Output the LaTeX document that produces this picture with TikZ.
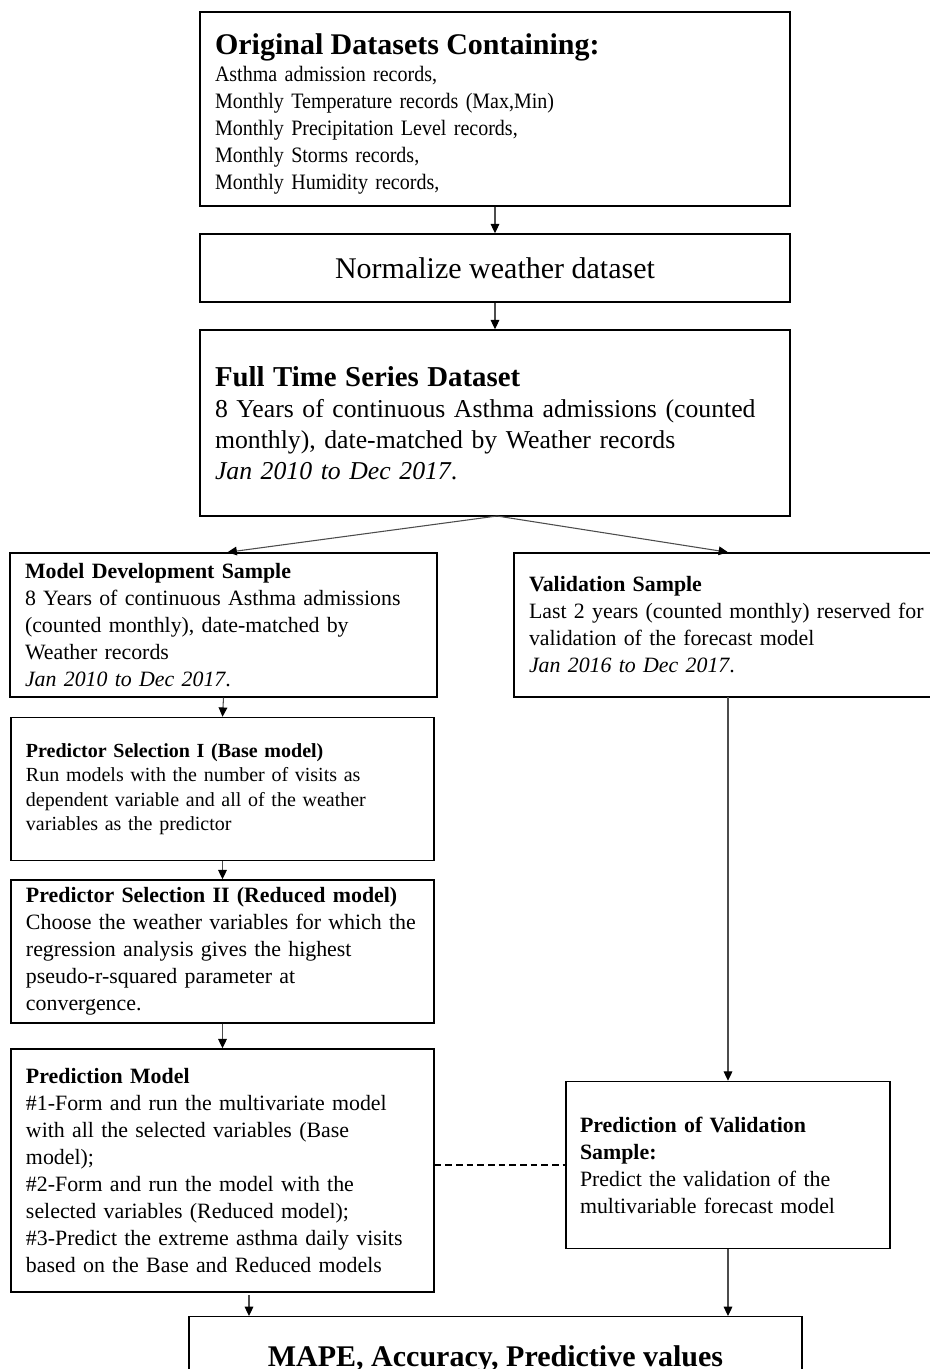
\documentclass[tikz,border=0pt]{standalone}
\usepackage{fontspec}
\setmainfont{Liberation Serif}
\newfontfamily\narrowserif[FakeStretch=0.91]{Liberation Serif}
\usetikzlibrary{arrows.meta,calc}
\begin{document}
\begin{tikzpicture}[x=0.75pt,y=-0.75pt,
  box/.style={draw=black, line width=1.1pt, inner sep=0pt, align=left},
  conn/.style={draw=black!70, line width=0.8pt, -{Triangle[length=7pt,width=6.5pt,color=black]}},
  dashconn/.style={draw=black, line width=0.8pt, dash pattern=on 5pt off 3pt},
  midfont/.style={font=\fontsize{16.4pt}{20.25pt}\selectfont}
]
\useasboundingbox (0,0) rectangle (930,1369);
\clip (0,0) rectangle (930,1369);

\node[box, minimum width=442.5pt, minimum height=145.5pt, text width=420pt,
  font=\narrowserif\fontsize{16.5pt}{20.25pt}\selectfont] (top) at (495,109)
  {{\rmfamily\fontsize{22.5pt}{20.25pt}\selectfont\bfseries\rule{0pt}{22.5pt}Original Datasets Containing:}\\
   Asthma admission records,\\
   Monthly Temperature records (Max,Min)\\
   Monthly Precipitation Level records,\\
   Monthly Storms records,\\
   Monthly Humidity records,};

\node[box, align=center, minimum width=442.5pt, minimum height=51pt,
  font=\fontsize{22.5pt}{27pt}\selectfont] (norm) at (495,268)
  {Normalize weather dataset};

\node[box, minimum width=442.5pt, minimum height=139.5pt, text width=420pt,
  font=\fontsize{19.3pt}{23.25pt}\selectfont] (full) at (495,423)
  {{\fontsize{21.6pt}{23.25pt}\selectfont\bfseries Full Time Series Dataset}\\
   8 Years of continuous Asthma admissions (counted\\
   monthly), date-matched by Weather records\\
   \textit{Jan 2010 to Dec 2017}.};

\node[box, midfont, minimum width=320.25pt, minimum height=108pt, text width=297.75pt] (md) at (223.5,625)
  {\textbf{Model Development Sample}\\
   8 Years of continuous Asthma admissions\\
   (counted monthly), date-matched by\\
   Weather records\\
   \textit{Jan 2010 to Dec 2017}.};

\node[box, midfont, minimum width=334.5pt, minimum height=108pt, text width=312pt] (val) at (737,625)
  {\textbf{Validation Sample}\\
   Last 2 years (counted monthly) reserved for\\
   validation of the forecast model\\
   \textit{Jan 2016 to Dec 2017}.};

\node[box, minimum width=317.25pt, minimum height=107.25pt, text width=294.75pt,
  font=\fontsize{15pt}{18.4pt}\selectfont] (ps1) at (222.5,789)
  {\textbf{Predictor Selection I (Base model)}\\
   Run models with the number of visits as\\
   dependent variable and all of the weather\\
   variables as the predictor};

\node[box, midfont, minimum width=317.25pt, minimum height=107.25pt, text width=294.75pt] (ps2) at (222.5,951.5)
  {\textbf{Predictor Selection II (Reduced model)}\\
   \mbox{Choose the weather variables for which the}\\
   regression analysis gives the highest\\
   pseudo-r-squared parameter at\\
   convergence.};

\node[box, midfont, minimum width=317.25pt, minimum height=182.25pt, text width=294.75pt] (pm) at (222.5,1170.5)
  {\textbf{Prediction Model}\\
   \#1-Form and run the multivariate model\\
   with all the selected variables (Base\\
   model);\\
   \#2-Form and run the model with the\\
   selected variables (Reduced model);\\
   \#3-Predict the extreme asthma daily visits\\
   based on the Base and Reduced models};

\node[box, midfont, minimum width=243pt, minimum height=125.25pt, text width=222pt] (pv) at (728,1165)
  {\textbf{Prediction of Validation}\\
   \textbf{Sample:}\\
   Predict the validation of the\\
   multivariable forecast model};

\node[box, align=center, anchor=north, minimum width=459.75pt, inner ysep=21.75pt,
  text height=15.75pt, text depth=50pt,
  font=\fontsize{22.5pt}{27pt}\selectfont\bfseries] (bot) at (495.5,1316)
  {MAPE, Accuracy, Predictive values};

\coordinate (fs) at (497,516);
\coordinate (pmout) at (249,1295);
\coordinate (valout) at (728,697);

\draw[conn] (top.south) -- (norm.north);
\draw[conn] (norm.south) -- (full.north);
\draw[conn] (fs) -- ($(md.north)+(4,0)$);
\draw[conn] (fs) -- (valout |- val.north);
\draw[conn] (md.south) -- (ps1.north);
\draw[conn] (ps1.south) -- (ps2.north);
\draw[conn] (ps2.south) -- (pm.north);
\draw[conn] (valout) -- (pv.north);
\draw[conn] (pmout) -- (pmout |- bot.north);
\draw[conn] (pv.south) -- (pv.south |- bot.north);
\draw[dashconn] (pv.west -| pm.east) -- (pv.west);
\end{tikzpicture}
\end{document}
